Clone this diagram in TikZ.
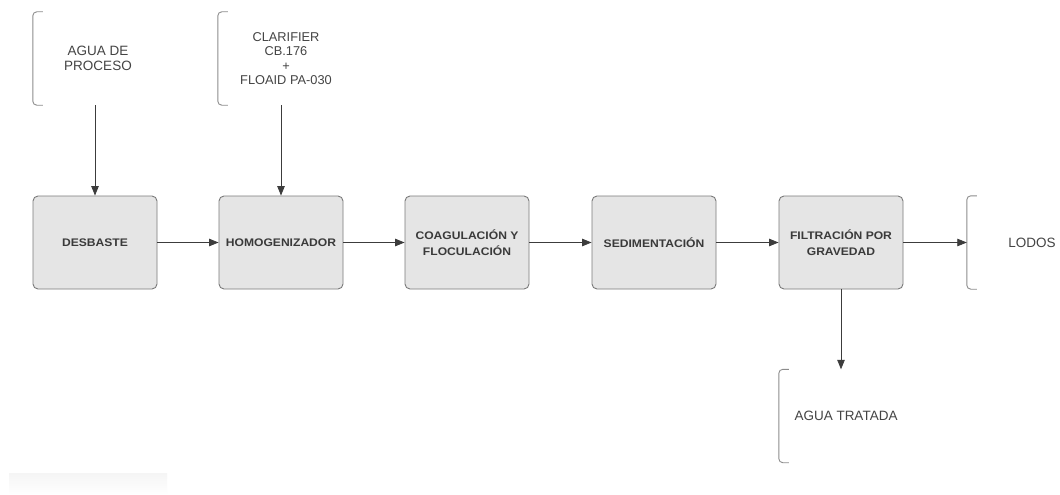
\documentclass[tikz,border=0pt]{standalone}
\usepackage{fontspec}
\setmainfont{Liberation Sans}
\newfontfamily\boxfont{Liberation Sans}[FakeStretch=1.1]
\usetikzlibrary{arrows.meta}
\definecolor{boxfill}{HTML}{E5E5E5}
\definecolor{boxline}{HTML}{7A7A7A}
\definecolor{boxtext}{HTML}{3A3A3A}
\definecolor{arrowline}{HTML}{3C3C3C}
\definecolor{brackline}{HTML}{8C8C8C}
\definecolor{plaintext}{HTML}{444444}
\begin{document}
\begin{tikzpicture}[x=1pt,y=-1pt,
  stage/.style={draw=boxline, line width=0.9pt, fill=boxfill, rounded corners=5pt,
    minimum width=124pt, minimum height=93pt, inner sep=2pt, align=center,
    text=boxtext, font=\boxfont\bfseries\fontsize{11}{16}\selectfont},
  ioterm/.style={minimum width=124pt, minimum height=93pt, inner sep=2pt, align=center,
    text=plaintext, font=\fontsize{13.5}{15.5}\selectfont},
  flow/.style={draw=arrowline, line width=0.8pt, -{Triangle[length=9.5pt,width=7.5pt]}},
  bracket/.style={draw=brackline, line width=0.9pt, rounded corners=4pt}
]
\useasboundingbox (0,0) rectangle (1060,495);
\fill[white] (0,0) rectangle (1060,495);

% faint shadow strip near the lower left corner
\shade[top color=black!4, bottom color=white] (9,473) rectangle (167,495);

% inputs and outputs (open brackets)
\node[ioterm] (agua)  at (95,58.5)  {\hspace*{6pt}AGUA DE\\\hspace*{6pt}PROCESO};
\node[ioterm, font=\fontsize{12.8}{14.5}\selectfont] (quim) at (280,58.5)
  {\hspace*{12pt}CLARIFIER\\\hspace*{12pt}CB.176\\\hspace*{12pt}+\\\hspace*{12pt}FLOAID PA-030};
\node[ioterm, minimum width=130pt] (lodos) at (1032,242.5) {LODOS};
\node[ioterm] (tratada) at (841,416) {\hspace*{10pt}AGUA TRATADA};

% process stages
\node[stage] (desb) at (95,242.5)  {DESBASTE};
\node[stage] (homo) at (281,242.5) {HOMOGENIZADOR};
\node[stage] (coag) at (467,242.5) {COAGULACIÓN Y\\FLOCULACIÓN};
\node[stage] (sedi) at (654,242.5) {SEDIMENTACIÓN};
\node[stage] (filt) at (841,242.5) {FILTRACIÓN POR\\GRAVEDAD};

% bracket outlines
\foreach \n in {agua,quim,lodos,tratada}{
  \draw[bracket] ([xshift=10pt]\n.north west) -- (\n.north west)
    -- (\n.south west) -- ([xshift=10pt]\n.south west);
}

% connectors
\draw[flow] (agua.south) -- (desb.north);
\draw[flow] ([xshift=1pt]quim.south) -- (homo.north);
\draw[flow] (desb) -- (homo);
\draw[flow] (homo) -- (coag);
\draw[flow] (coag) -- (sedi);
\draw[flow] (sedi) -- (filt);
\draw[flow] (filt.east) -- (lodos.west);
\draw[flow] (filt.south) -- (tratada.north);
\end{tikzpicture}
\end{document}
